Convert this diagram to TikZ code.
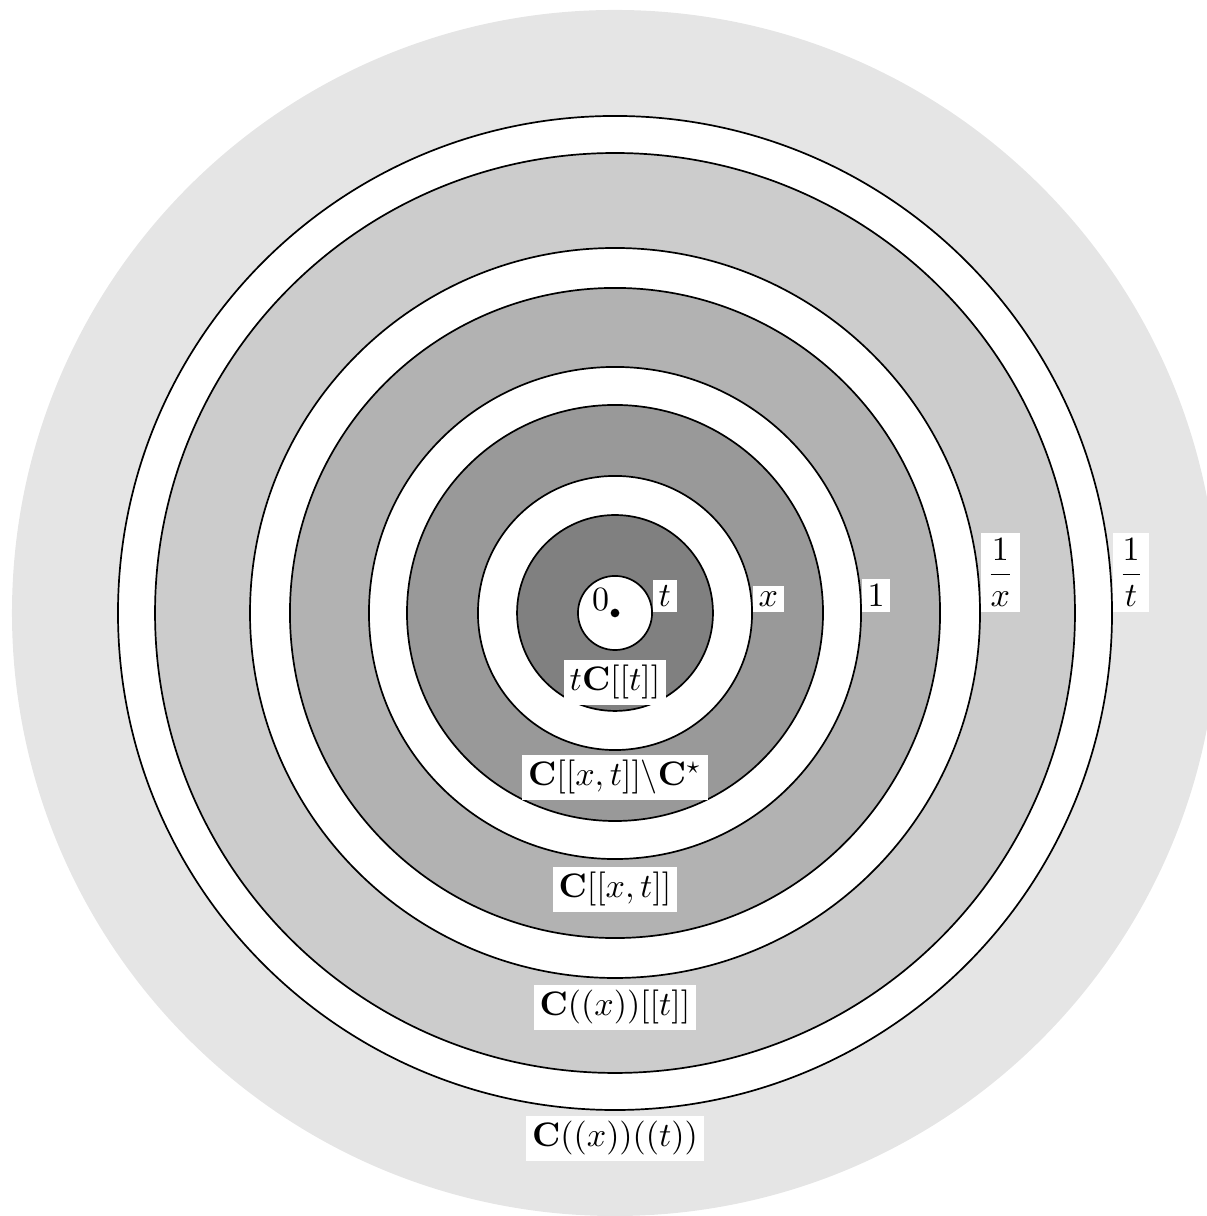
\documentclass[tikz,border=0pt]{standalone}
\usepackage{amsmath}
\usepackage{amssymb}
\usetikzlibrary{positioning}

\begin{document}
\begin{tikzpicture}[
    lbl/.style={fill=white, inner sep=1.7pt},
    ring/.style={draw=black, line width=0.5pt},
]
    \useasboundingbox (-6.359, -6.235) rectangle (6.121, 6.338);

    % Outer region
    \fill[black!10] (0, 0) circle (6.235);

    % Rings, from outside in
    \foreach \rad/\col in {5.139/white, 4.756/black!20, 3.774/white, 3.361/black!30,
                           2.544/white, 2.151/black!40, 1.417/white, 1.013/black!50,
                           0.383/white}
        \filldraw[ring, fill=\col] (0, 0) circle (\rad);

    % Origin
    \fill (0, 0) circle (0.045);
    \node[inner sep=0pt] (zero) at (-0.15, 0.14) {$0$};

    % Radii labels
    \node[lbl, anchor=south west] (t)    at (0.383, 0) {$t$};
    \node[lbl, anchor=south west] (x)    at (1.417, 0) {$x$};
    \node[lbl, anchor=south west] (one)  at (2.544, 0) {$1$};
    \node[lbl, anchor=south west] (invx) at (3.774, 0) {$\dfrac{1}{x}$};
    \node[lbl, anchor=south west] (invt) at (5.139, 0) {$\dfrac{1}{t}$};

    % Ring labels
    \node[lbl, anchor=north] (tCt)    at (0, -0.476) {$t\mathbf{C}[[t]]$};
    \node[lbl, anchor=north] (Cxtmin) at (0, -1.458) {$\mathbf{C}[[x,t]]\backslash\mathbf{C}^{\star}$};
    \node[lbl, anchor=north] (Cxt)    at (0, -2.616) {$\mathbf{C}[[x,t]]$};
    \node[lbl, anchor=north] (Cxpt)   at (0, -3.836) {$\mathbf{C}((x))[[t]]$};
    \node[lbl, anchor=north] (Cxlt)   at (0, -5.191) {$\mathbf{C}((x))((t))$};
\end{tikzpicture}
\end{document}
